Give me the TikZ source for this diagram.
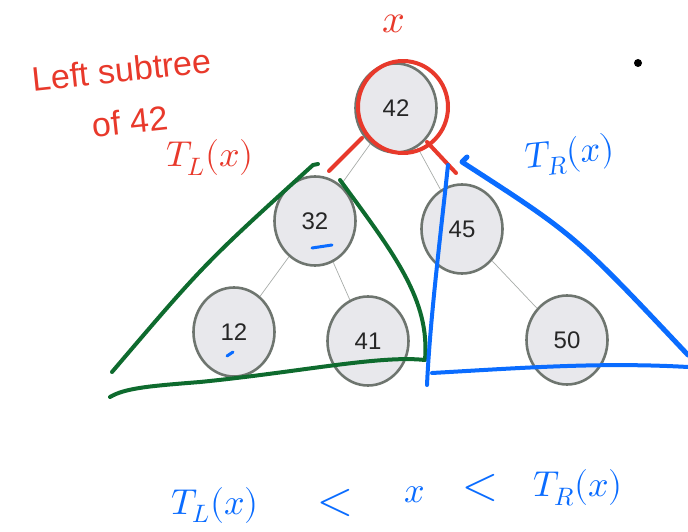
\documentclass[tikz,border=0pt]{standalone}
\usepackage{fontspec}
\usepackage{unicode-math}
\setsansfont{Liberation Sans}
\usetikzlibrary{shapes.geometric}

\definecolor{keyfill}{HTML}{E8E8EC}
\definecolor{keyline}{HTML}{6E756F}
\definecolor{penred}{HTML}{E8392B}
\definecolor{pengreen}{HTML}{0E6B2E}
\definecolor{penblue}{HTML}{0A6CFF}

\begin{document}
\begin{tikzpicture}[
    x=1pt, y=-1pt,
    key/.style={ellipse, draw=keyline, fill=keyfill, line width=2.6pt, minimum width=81pt, minimum height=89pt,
                inner sep=0pt, text=black!85, font=\sffamily\fontsize{24}{24}\selectfont},
    edge/.style={draw=keyline!60, line width=0.7pt},
    pen/.style={line width=4pt, line cap=round, line join=round},
    note/.style={inner sep=0pt, font=\sffamily\fontsize{34}{34}\selectfont},
    mnote/.style={inner sep=0pt, font=\fontsize{36}{36}\selectfont}
]
\useasboundingbox (0,0) rectangle (688,532);

% ---- the tree ----
\node[key] (k42) at (396,108) {42};
\node[key] (k32) at (315,221) {32};
\node[key] (k45) at (462,229) {45};
\node[key] (k12) at (234,332) {12};
\node[key] (k41) at (368,341) {41};
\node[key] (k50) at (567,340) {50};

\draw[edge] (k42) -- (k32);
\draw[edge] (k42) -- (k45);
\draw[edge] (k32) -- (k12);
\draw[edge] (k32) -- (k41);
\draw[edge] (k45) -- (k50);

% ---- red ink: the root x ----
\draw[pen, penred] (403,107) ellipse [x radius=45, y radius=46];
\draw[pen, penred] (362,138) -- (329,171);
\draw[pen, penred] (427,142) -- (456,173);
\node[mnote, penred, font=\fontsize{40}{40}\selectfont] (xroot) at (394,24) {$x$};
\node[note, penred, rotate=6] (lefttxt) at (122,70) {Left subtree};
\node[note, penred, rotate=6] (oftxt) at (130,121) {of 42};
\node[mnote, penred] (tl) at (210,158) {$T_L(x)$};

% ---- green ink: left subtree ----
\draw[pen, pengreen] (112,372) .. controls (205,263) .. (313,165) -- (318,164);
\draw[pen, pengreen] (340,180) .. controls (395,255) and (430,300) .. (425,360)
    .. controls (380,355) and (300,372) .. (200,382) .. controls (150,386) and (125,388) .. (110,397);

% ---- blue ink: right subtree ----
\draw[pen, penblue] (448,165) .. controls (440,240) and (430,320) .. (427,385);
\draw[pen, penblue] (432,373) .. controls (520,368) and (600,362) .. (688,367);
\draw[pen, penblue, line width=5pt] (467,157) -- (462,162) .. controls (575,235) .. (688,355);
\draw[pen, penblue, line width=3pt] (312,248) -- (332,245);
\draw[pen, penblue, line width=3pt] (227,356) -- (233,352);
\node[mnote, penblue, rotate=6] (tr) at (570,155) {$T_R(x)$};

% ---- the rule at the bottom ----
\node[mnote, penblue] (btl) at (215,505) {$T_L(x)$};
\node[mnote, penblue, font=\fontsize{46}{46}\selectfont] (blt1) at (335,503) {$<$};
\node[mnote, penblue] (bx) at (415,495) {$x$};
\node[mnote, penblue, font=\fontsize{46}{46}\selectfont] (blt2) at (480,488) {$<$};
\node[mnote, penblue] (btr) at (578,488) {$T_R(x)$};

\fill (638,63) circle (4);

\end{tikzpicture}
\end{document}
